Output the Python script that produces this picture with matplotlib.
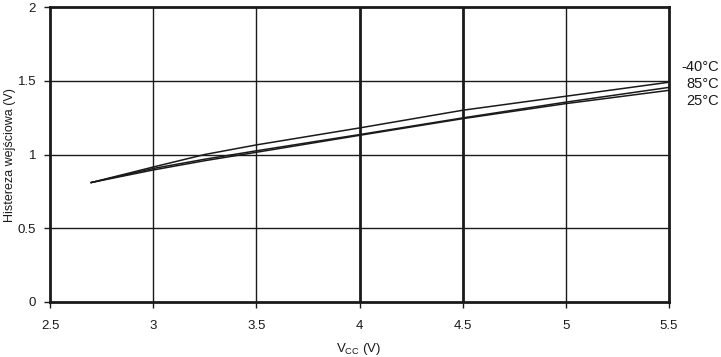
import matplotlib
matplotlib.use("Agg")
import matplotlib.pyplot as plt

plt.rcParams['font.family'] = ['Liberation Sans', 'DejaVu Sans']

vcc = [2.7, 3.0, 3.25, 3.5, 4.0, 4.5, 5.0, 5.5]
h_m40 = [0.81, 0.915, 1.0, 1.065, 1.18, 1.30, 1.395, 1.49]
h_85 = [0.81, 0.905, 0.968, 1.025, 1.135, 1.248, 1.355, 1.455]
h_25 = [0.81, 0.895, 0.958, 1.015, 1.13, 1.243, 1.345, 1.435]
series_labels = ["-40°C", "85°C", "25°C"]
xticks = [2.5, 3, 3.5, 4, 4.5, 5, 5.5]
xticklabels = ["2.5", "3", "3.5", "4", "4.5", "5", "5.5"]
yticks = [0, 0.5, 1, 1.5, 2]
yticklabels = ["0", "0.5", "1", "1.5", "2"]

fig = plt.figure(figsize=(7.21, 3.57), dpi=100)
ax = fig.add_axes([50/721, 55/357, 619/721, 295/357])
ax.set_xlim(2.5, 5.5)
ax.set_ylim(0, 2)

for x in xticks[1:-1]:
    lw = 2.0 if x in (4, 4.5) else 1.0
    ax.axvline(x, color='#1a1a1a', lw=lw, zorder=1)
for y in yticks[1:-1]:
    ax.axhline(y, color='#1a1a1a', lw=1.0, zorder=1)

for ys in (h_m40, h_85, h_25):
    ax.plot(vcc, ys, color='#1a1a1a', lw=1.1, zorder=3)

for s in ax.spines.values():
    s.set_linewidth(2.0)
    s.set_color('#1a1a1a')

ax.set_xticks(xticks)
ax.set_xticklabels(xticklabels)
ax.set_yticks(yticks)
ax.set_yticklabels(yticklabels)
ax.tick_params(direction='out', length=4, width=1, color='#1a1a1a', labelsize=9.5, colors='#1a1a1a')
ax.tick_params(axis='x', pad=9)
ax.tick_params(axis='y', pad=6)

fig.text(359/721, 1 - 349/357, r"V$_{\mathregular{CC}}$ (V)", ha='center', va='center',
         fontsize=9.5, color='#1a1a1a')
fig.text(10/721, 1 - 155/357, "Histereza wejściowa (V)", ha='center', va='center',
         rotation=90, fontsize=9, color='#1a1a1a')

for lbl, yp in zip(series_labels, [67, 84, 101]):
    fig.text(719/721, 1 - yp/357, lbl, ha='right', va='center', fontsize=10.5, color='#1a1a1a')

fig.savefig("out.png", dpi=100)
